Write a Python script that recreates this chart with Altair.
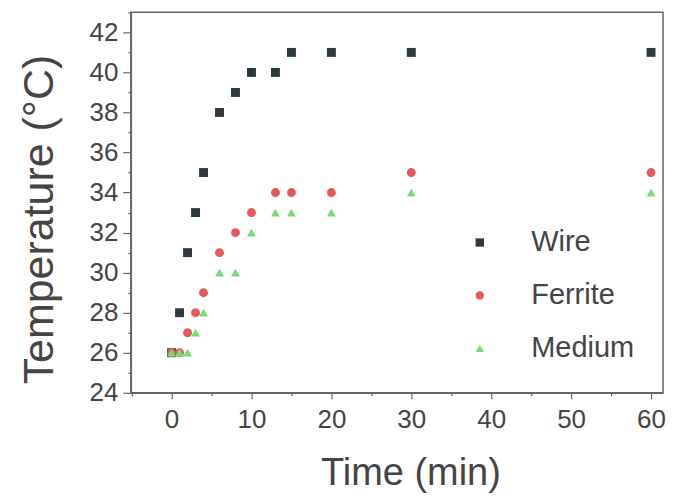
import altair as alt
import pandas as pd

series_names = ["Wire", "Ferrite", "Medium"]
wire_time = [0, 1, 2, 3, 4, 6, 8, 10, 13, 15, 20, 30, 60]
wire_temp = [26, 28, 31, 33, 35, 38, 39, 40, 40, 41, 41, 41, 41]
ferrite_time = [0, 1, 2, 3, 4, 6, 8, 10, 13, 15, 20, 30, 60]
ferrite_temp = [26, 26, 27, 28, 29, 31, 32, 33, 34, 34, 34, 35, 35]
medium_time = [0, 1, 2, 3, 4, 6, 8, 10, 13, 15, 20, 30, 60]
medium_temp = [26, 26, 26, 27, 28, 30, 30, 32, 33, 33, 33, 34, 34]
colors = ["#2f3a40", "#e25a5a", "#72dd72"]
shapes = ["square", "circle", "triangle-up"]

rows = []
for name, ts, vs in [("Wire", wire_time, wire_temp),
                     ("Ferrite", ferrite_time, ferrite_temp),
                     ("Medium", medium_time, medium_temp)]:
    for t, v in zip(ts, vs):
        rows.append({"series": name, "time": t, "temp": v})
df = pd.DataFrame(rows)

x_ticks = list(range(-5, 62, 5))
y_ticks = list(range(24, 44, 1))

chart = alt.Chart(df).mark_point(filled=True, opacity=1, size=80).encode(
    x=alt.X("time:Q",
            scale=alt.Scale(domain=[-5.1, 61.5], nice=False, zero=False),
            axis=alt.Axis(title="Time (min)", values=x_ticks,
                          labelExpr="datum.value % 10 === 0 ? datum.label : ''",
                          tickSize={"condition": {"test": "datum.value % 10 === 0", "value": 6}, "value": 3},
                          grid=False, labelFontSize=26, titleFontSize=38,
                          labelPadding=8, titlePadding=22, titleX=280, titleAlign="center",
                          labelFlush=False)),
    y=alt.Y("temp:Q",
            scale=alt.Scale(domain=[24, 43], nice=False, zero=False),
            axis=alt.Axis(title="Temperature (°C)", values=y_ticks,
                          labelExpr="datum.value % 2 === 0 ? datum.label : ''",
                          tickSize={"condition": {"test": "datum.value % 2 === 0", "value": 8}, "value": 3},
                          grid=False, labelFontSize=26, titleFontSize=43,
                          labelPadding=5, titlePadding=28, titleY=207, titleAlign="center",
                          labelFlush=False)),
    color=alt.Color("series:N",
                    scale=alt.Scale(domain=series_names, range=colors),
                    sort=series_names,
                    legend=alt.Legend(title=None, orient="none", legendX=335, legendY=216,
                                      labelFontSize=29, symbolSize=70, rowPadding=23,
                                      labelOffset=37, labelColor="#444")),
    shape=alt.Shape("series:N",
                    scale=alt.Scale(domain=series_names, range=shapes),
                    sort=series_names),
    order=alt.Order("order:Q"),
).transform_calculate(
    order="datum.series === 'Wire' ? 0 : (datum.series === 'Ferrite' ? 1 : 2)"
).properties(
    width=533, height=381,
    autosize=alt.AutoSizeParams(type="none"),
    padding={"left": 123, "top": 4, "right": 8, "bottom": 100},
).configure_axis(
    labelFont="Liberation Sans", titleFont="Liberation Sans",
    labelColor="#444", titleColor="#444", titleFontWeight="normal",
    domainColor="#666", tickColor="#666", domainWidth=1.5, tickWidth=1.2,
).configure_legend(
    labelFont="Liberation Sans",
).configure_view(
    stroke="#666", strokeWidth=1.5,
)

chart.save("out.html", embed_options={"renderer": "svg", "actions": False})
